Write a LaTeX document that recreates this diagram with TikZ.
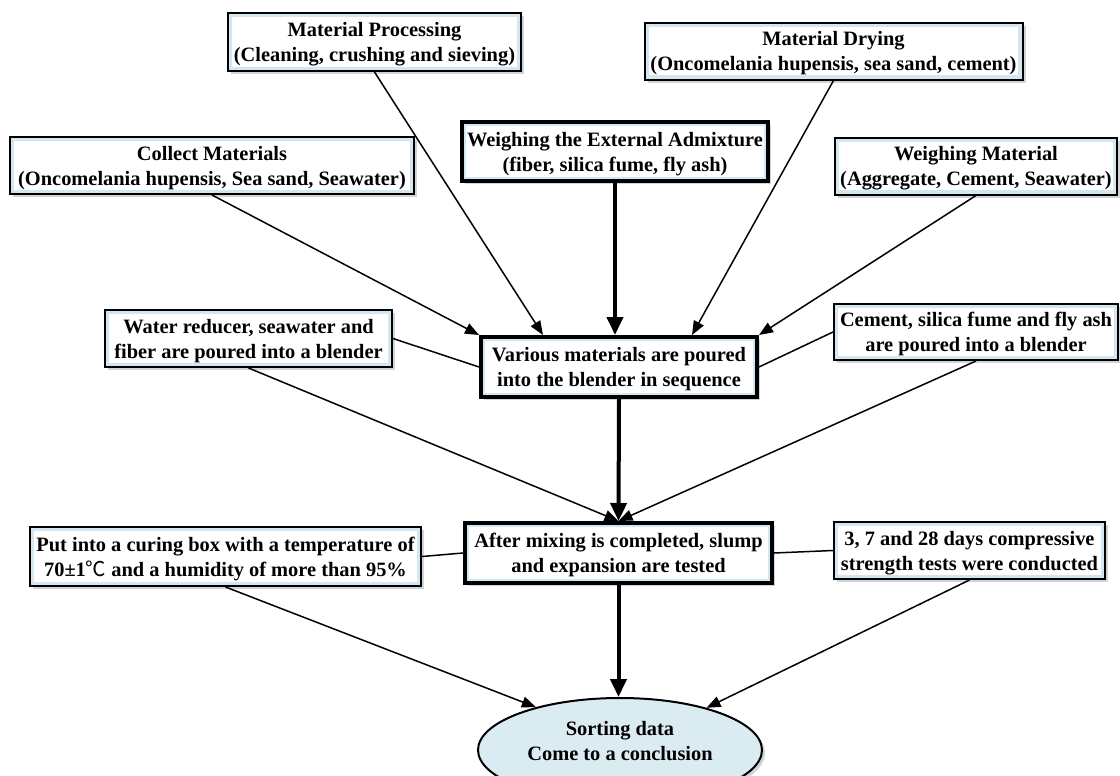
\documentclass[tikz,border=0pt]{standalone}
\usepackage{fontspec}
\setmainfont{Liberation Serif}
\newfontfamily\cjkfont{Noto Sans CJK SC}
\usetikzlibrary{shapes.geometric,shadows,arrows.meta}
\definecolor{bandblue}{RGB}{212,231,240}
\definecolor{ellblue}{RGB}{219,235,242}
\tikzset{
  boxbase/.style={draw=black, fill=bandblue, align=center, inner xsep=2pt, inner ysep=1pt, text depth=0pt,
    font=\bfseries\fontsize{10.2}{12.5}\selectfont,
    drop shadow={shadow xshift=1.5pt, shadow yshift=-1.5pt, opacity=0.35},
    path picture={\fill[white] ([shift={(2.2pt,-2.2pt)}]path picture bounding box.north west) rectangle ([shift={(-2.2pt,2.2pt)}]path picture bounding box.south east);}},
  thinbox/.style={boxbase, line width=1pt},
  thickbox/.style={boxbase, line width=2pt},
  ellbox/.style={ellipse, draw=black, line width=1pt, fill=ellblue, align=center, inner sep=0pt,
    font=\bfseries\fontsize{10.2}{12.5}\selectfont,
    drop shadow={shadow xshift=1.5pt, shadow yshift=-1.5pt, opacity=0.35}},
  thinline/.style={line width=0.75pt},
  thinarrow/.style={line width=0.75pt, -{Triangle[length=7pt,width=5.5pt]}},
  thickarrow/.style={line width=2pt, -{Triangle[length=9pt,width=8pt]}},
}
\begin{document}
\begin{tikzpicture}[x=0.5pt,y=-0.5pt]
\useasboundingbox (0,0) rectangle (1120,776);
\clip (0,0) rectangle (1120,776);

\node[thinbox, minimum width=146.5pt, minimum height=29pt] (mp) at (374.5,42) {Material Processing\\(Cleaning, crushing and sieving)};
\node[thinbox, minimum width=189pt, minimum height=28.5pt] (md) at (833.5,51) {Material Drying\\(Oncomelania hupensis, sea sand, cement)};
\node[thinbox, minimum width=202pt, minimum height=28.5pt] (cm) at (212,165.5) {Collect Materials\\(Oncomelania hupensis, Sea sand, Seawater)};
\node[thickbox, minimum width=153pt, minimum height=29.5pt] (wea) at (615,151.5) {Weighing the External Admixture\\(fiber, silica fume, fly ash)};
\node[thinbox, minimum width=141pt, minimum height=28.5pt] (wm) at (976,166) {Weighing Material\\(Aggregate, Cement, Seawater)};
\node[thinbox, minimum width=143.5pt, minimum height=28.5pt] (wr) at (248.5,338.5) {Water reducer, seawater and\\fiber are poured into a blender};
\node[thickbox, minimum width=138pt, minimum height=30pt] (va) at (619,367) {Various materials are poured\\into the blender in sequence};
\node[thinbox, minimum width=142pt, minimum height=28pt] (cs) at (976,332) {Cement, silica fume and fly ash\\are poured into a blender};
\node[thinbox, minimum width=195.5pt, minimum height=29.5pt] (pc) at (225.5,556.5) {Put into a curing box with a temperature of\\70\textpm1{\cjkfont\mdseries ℃} and a humidity of more than 95\%};
\node[thickbox, minimum width=153.5pt, minimum height=30pt] (am) at (618.5,553) {After mixing is completed, slump\\and expansion are tested};
\node[thinbox, minimum width=135.5pt, minimum height=28.5pt] (tt) at (969.5,550.5) {3, 7 and 28 days compressive\\strength tests were conducted};
\node[ellbox, minimum width=142pt, minimum height=52pt, text depth=9pt] (ell) at (620,750) {Sorting data\\Come to a conclusion};

% top row into the blender box
\draw[thinarrow] (cm.south) -- (va.north west);
\draw[thinarrow] (mp.south) -- ([xshift=-38pt]va.north);
\draw[thickarrow] (wea.south) -- (wea.south |- va.north);
\draw[thinarrow] (md.south) -- ([xshift=36.5pt]va.north);
\draw[thinarrow] (wm.south) -- (va.north east);
\draw[thinline] (wr.east) -- (va.west);
\draw[thinline] (cs.west) -- (va.east);

% into the mixing box
\draw[thickarrow] (va.south) -- (am.north);
\draw[thinarrow] (wr.south) -- (am.north);
\draw[thinarrow] (cs.south) -- (am.north);
\draw[thinline] (pc.east) -- (am.west);
\draw[thinline] (am.east) -- (tt.west);

% into the ellipse
\draw[thickarrow] (am.south) -- (am.south |- ell.north);
\draw[thinarrow] (pc.south) -- (ell.153);
\draw[thinarrow] (tt.south) -- (ell.26);
\end{tikzpicture}
\end{document}
